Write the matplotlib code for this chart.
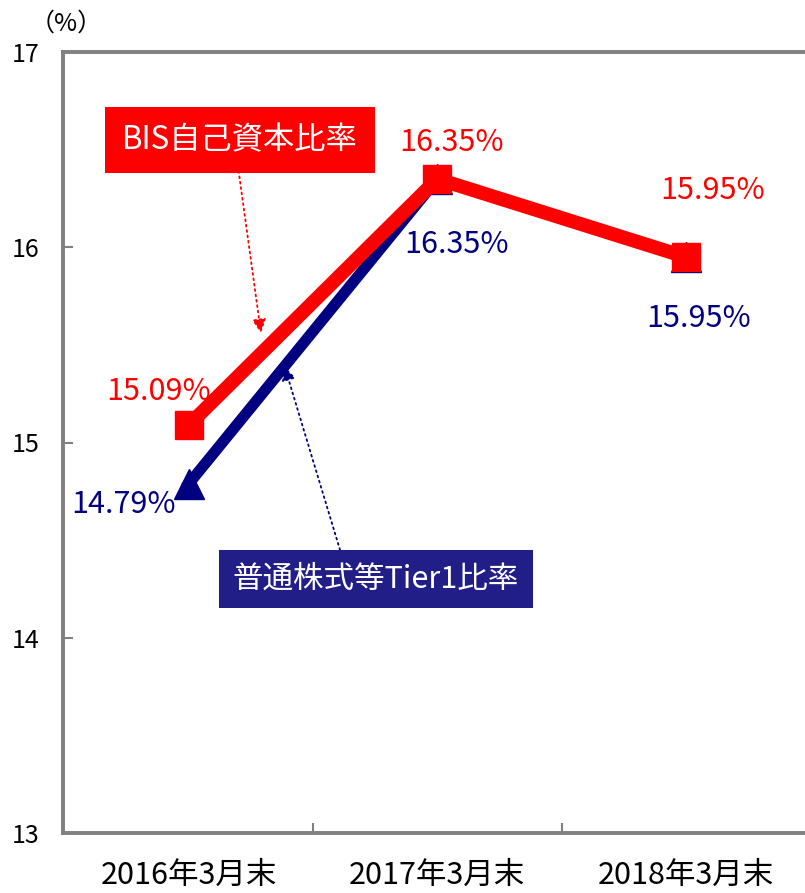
import matplotlib.pyplot as plt

plt.rcParams['font.family'] = ['Noto Sans CJK JP', 'DejaVu Sans']

periods = ['2016年3月末', '2017年3月末', '2018年3月末']
bis_ratio = [15.09, 16.35, 15.95]
cet1_ratio = [14.79, 16.35, 15.95]

red = '#FF0000'
navy = '#000080'
grey = '#808080'

fig = plt.figure(figsize=(8.05, 8.93), dpi=100)
ax = fig.add_axes([63 / 805, 60 / 893, 747 / 805, 781 / 893])

x = list(range(len(periods)))
ax.plot(x, cet1_ratio, color=navy, lw=8, marker='^', ms=21, zorder=2)
ax.plot(x, bis_ratio, color=red, lw=10, marker='s', ms=20, zorder=3)

# value labels (offsets in points)
red_off = [(-22, 24), (10, 26), (19, 48)]
blue_off = [(-47, -15), (14, -47), (9, -44)]
for i, v in enumerate(bis_ratio):
    ax.annotate(f'{v:.2f}%', (x[i], v), xytext=red_off[i], textcoords='offset points',
                ha='center', va='center', fontsize=22, color=red, zorder=4)
for i, v in enumerate(cet1_ratio):
    ax.annotate(f'{v:.2f}%', (x[i], v), xytext=blue_off[i], textcoords='offset points',
                ha='center', va='center', fontsize=22, color=navy, zorder=4)

# series name boxes with dotted pointers
ax.text(0.204, 16.55, 'BIS自己資本比率', ha='center', va='center', fontsize=22.5,
        color='white', zorder=5,
        bbox=dict(boxstyle='square,pad=0.55', fc=red, ec='none'))
ax.annotate('', xy=(0.29, 15.56), xytext=(0.2, 16.39),
            arrowprops=dict(arrowstyle='-|>,head_length=0.6,head_width=0.3',
                            color=red, lw=1.3, linestyle=(0, (1, 2)),
                            shrinkA=0, shrinkB=0, mutation_scale=14), zorder=4)

ax.text(0.752, 14.30, '普通株式等Tier1比率', ha='center', va='center', fontsize=22,
        color='white', zorder=5,
        bbox=dict(boxstyle='square,pad=0.45', fc='#211E87', ec='none'))
ax.annotate('', xy=(0.385, 15.39), xytext=(0.608, 14.45),
            arrowprops=dict(arrowstyle='-|>,head_length=0.6,head_width=0.3',
                            color=navy, lw=1.3, linestyle=(0, (1, 2)),
                            shrinkA=0, shrinkB=0, mutation_scale=14), zorder=4)

ax.set_xlim(-0.507, 2.5)
ax.set_ylim(13, 17)
ax.set_yticks([13, 14, 15, 16, 17])
ax.set_xticks(x)
ax.set_xticklabels(periods, fontsize=22)
ax.set_xticks([0.5, 1.5], minor=True)
ax.tick_params(axis='x', which='major', length=0, pad=19)
ax.tick_params(axis='x', which='minor', direction='in', length=7, width=1.5, color=grey)
ax.tick_params(axis='y', direction='in', length=7, width=1.5, color=grey, pad=17, labelsize=18)

for s in ['left', 'bottom', 'top']:
    ax.spines[s].set_color(grey)
    ax.spines[s].set_linewidth(2.8)
ax.spines['right'].set_visible(False)

fig.text(66 / 805, 1 - 24 / 893, '（%）', ha='center', va='center', fontsize=18)

fig.savefig('out.png', dpi=100)
